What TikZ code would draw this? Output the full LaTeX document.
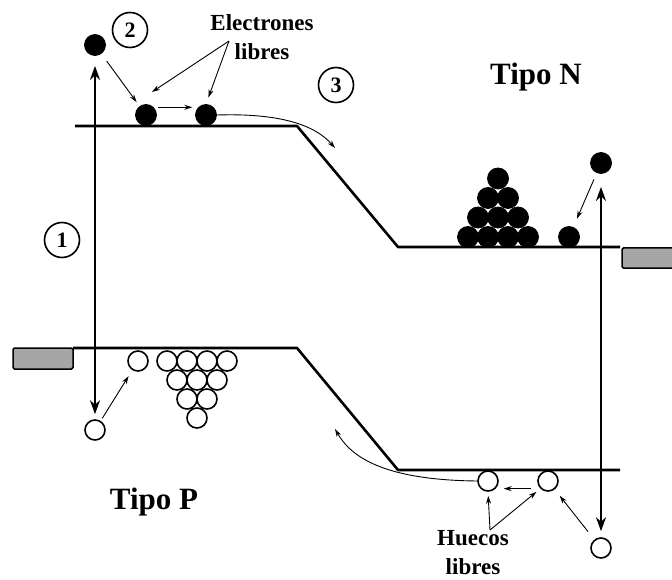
\documentclass[tikz,border=0pt]{standalone}
\usepackage{fontspec}
\setmainfont{Liberation Serif}
\usetikzlibrary{arrows.meta}
\definecolor{BarraGris}{HTML}{A6A6A6}

\tikzset{
  electron/.style={circle, fill=black, draw=black, line width=0.8pt, inner sep=0pt, minimum size=21pt},
  hueco/.style={circle, draw=black, line width=1.6pt, inner sep=0pt, minimum size=20pt},
  paso/.style={circle, draw=black, line width=1.6pt, inner sep=0pt, minimum size=35pt,
    font=\bfseries\fontsize{22}{22}\selectfont},
  banda/.style={line width=2.6pt, line join=round},
  flecha/.style={-{Stealth[length=8pt,width=5pt]}, line width=0.9pt},
  salto/.style={{Stealth[length=14pt,width=10pt]}-{Stealth[length=14pt,width=10pt]}, line width=2pt},
  rotulo/.style={align=center, inner sep=1pt, font=\bfseries\fontsize{23}{29}\selectfont},
  tipo/.style={font=\bfseries\fontsize{31}{31}\selectfont},
}

\begin{document}
\begin{tikzpicture}[x=1pt,y=-1pt]
  \useasboundingbox (0,0) rectangle (672,580);

  % bandas
  \draw[banda] (75,126) -- (297,126) -- (398,247) -- (620,247);
  \draw[banda] (73,348) -- (297,348) -- (398,470) -- (620,470);
  \draw[fill=BarraGris, line width=1.5pt, rounded corners=1.5pt] (13,348) rectangle (73,369);
  \draw[fill=BarraGris, line width=1.5pt, rounded corners=1.5pt] (622,248) rectangle (690,268);

  % pasos
  \node[paso] (uno) at (62,240) {1};
  \node[paso] (dos) at (130,30) {2};
  \node[paso] (tres) at (336,85) {3};

  \node[tipo] (tipoN) at (536,77) {Tipo N};
  \node[tipo] (tipoP) at (154,502) {Tipo P};

  % electrones
  \node[electron] (eP) at (95,45) {};
  \node[electron] (e1) at (146,115) {};
  \node[electron] (e2) at (206,115) {};
  \node[electron] (eN) at (601,163) {};
  \node[electron] (eS) at (569,237) {};
  \foreach \f in {0,...,3}{
    \pgfmathtruncatemacro{\n}{3-\f}
    \foreach \c in {0,...,\n}
      \node[electron] (n\f\c) at ({468+10*\f+20*\c},{237-19.5*\f}) {};
  }

  % huecos
  \node[hueco] (hP) at (95,430) {};
  \node[hueco] (h0) at (138,361) {};
  \node[hueco] (h1) at (488,481) {};
  \node[hueco] (h2) at (548,481) {};
  \node[hueco] (hN) at (601,548) {};
  \foreach \f in {0,...,3}{
    \pgfmathtruncatemacro{\n}{3-\f}
    \foreach \c in {0,...,\n}
      \node[hueco] (p\f\c) at ({167+10*\f+20*\c},{361+19*\f}) {};
  }

  % rotulos
  \node[rotulo] (lblE) at (262,37) {Electrones\\libres};
  \node[rotulo] (lblH) at (473,553) {Huecos\\libres};
  \coordinate (pE) at (229,41);
  \coordinate (pH) at (490,530);
  \coordinate (finE) at (335,148);
  \coordinate (finH) at (335,429);

  % saltos
  \draw[salto, shorten <=10pt, shorten >=5pt] (eP) -- (hP);
  \draw[salto, shorten <=13pt, shorten >=6pt] (eN) -- (hN);

  % flechas
  \draw[flecha, shorten <=9pt, shorten >=5pt] (eP) -- (e1);
  \draw[flecha, shorten <=4pt, shorten >=6pt] (e1.north east) -- (e2.north west);
  \draw[flecha] (e2.east) .. controls (280,113) and (315,125) .. (finE);
  \draw[flecha] (pE) -- ([shift={(6,-23)}]e1.center);
  \draw[flecha, shorten >=7pt] (pE) -- (e2.north);
  \draw[flecha, shorten <=7pt, shorten >=9pt] (eN) -- (eS);
  \draw[flecha, shorten <=3pt, shorten >=7pt] (hP) -- (h0);

  \draw[flecha, shorten <=9pt, shorten >=8pt] (h2.south west) -- (h1.south east);
  \draw[flecha, shorten <=10pt, shorten >=8pt] (hN) -- (h2);
  \draw[flecha, shorten >=4pt] (pH) -- (h1.south);
  \draw[flecha, shorten >=5pt] (pH) -- (h2.south west);
  \draw[flecha] (h1.west) .. controls (380,480) and (350,455) .. (finH);
\end{tikzpicture}
\end{document}
